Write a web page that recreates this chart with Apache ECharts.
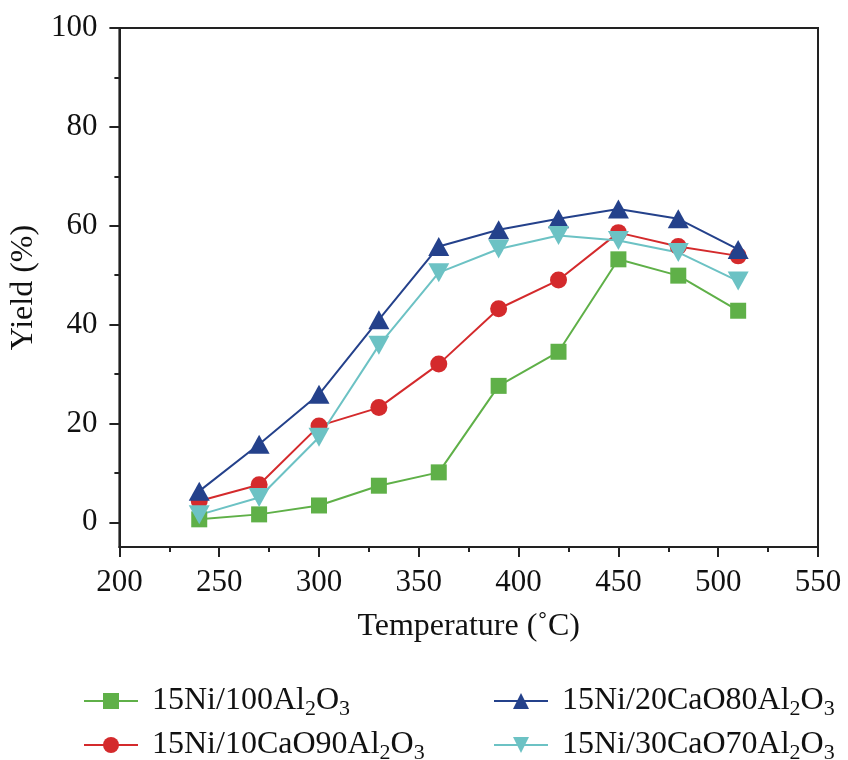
<!DOCTYPE html>
<html>
<head>
<meta charset="utf-8">
<script src="https://cdn.jsdelivr.net/npm/echarts@6/dist/echarts.min.js"></script>
<style>
  html, body { margin: 0; padding: 0; background: #fff; }
  #main { width: 848px; height: 760px; }
</style>
</head>
<body>
<div id="main"></div>
<script>
var temps = [240, 270, 300, 330, 360, 390, 420, 450, 480, 510];

var ni100 = [0.6, 1.6, 3.4, 7.4, 10.1, 27.6, 34.5, 53.2, 49.9, 42.8];
var ca10  = [4.3, 7.6, 19.5, 23.2, 32.0, 43.2, 49.0, 58.6, 55.8, 53.9];
var ca20  = [6.3, 15.8, 25.9, 41.0, 55.8, 59.2, 61.4, 63.4, 61.4, 55.2];
var ca30  = [1.5, 5.0, 17.2, 35.8, 50.5, 55.3, 58.0, 57.0, 54.6, 48.8];

var names = ['15Ni/100Al2O3', '15Ni/10CaO90Al2O3', '15Ni/20CaO80Al2O3', '15Ni/30CaO70Al2O3'];
var labels = [
    '{n|15Ni/100Al}{s|2}{n|O}{s|3}',
    '{n|15Ni/10CaO90Al}{s|2}{n|O}{s|3}',
    '{n|15Ni/20CaO80Al}{s|2}{n|O}{s|3}',
    '{n|15Ni/30CaO70Al}{s|2}{n|O}{s|3}'
];

var yMajor = [0, 20, 40, 60, 80, 100];
var yMinor = [10, 30, 50, 70, 90];

var font = 'Liberation Serif';
var axisColor = '#222';

function pairs(vals) {
    return temps.map(function (t, i) { return [t, vals[i]]; });
}

function legendBox(left, data) {
    return {
        left: left,
        top: 677,
        width: 360,
        height: 120,
        orient: 'vertical',
        itemWidth: 54,
        itemHeight: 20,
        itemGap: 6,
        data: data,
        formatter: function (name) { return labels[names.indexOf(name)]; },
        textStyle: {
            padding: [0, 0, 0, 9],
            rich: {
                n: { fontFamily: font, fontSize: 32, lineHeight: 36, color: '#111' },
                s: { fontFamily: font, fontSize: 22, lineHeight: 22, padding: [16, 0, 0, 0], color: '#111' }
            }
        }
    };
}

function line(name, vals, color, symbol, size) {
    return {
        name: name,
        type: 'line',
        data: pairs(vals),
        symbol: symbol,
        symbolSize: size,
        lineStyle: { color: color, width: 2 },
        itemStyle: { color: color, borderWidth: 0 },
        emphasis: { disabled: true },
        animation: false
    };
}

var myChart = echarts.init(document.getElementById('main'));

option = {
    backgroundColor: '#fff',
    grid: {
        left: 119, right: 30, top: 28, bottom: 213,
        show: true,
        borderColor: axisColor,
        borderWidth: 2
    },
    legend: [
        legendBox(78, [names[0], names[1]]),
        legendBox(488, [names[2], names[3]])
    ],
    xAxis: {
        type: 'value',
        min: 200,
        max: 550,
        interval: 50,
        name: 'Temperature (˚C)',
        nameLocation: 'middle',
        nameGap: 64,
        nameTextStyle: { fontFamily: font, fontSize: 32, color: '#111' },
        axisLine: { onZero: false, lineStyle: { color: axisColor, width: 2 } },
        axisTick: { show: true, inside: false, length: 10, lineStyle: { color: axisColor, width: 2 } },
        minorTick: { show: true, splitNumber: 2, length: 5, lineStyle: { color: axisColor, width: 2 } },
        axisLabel: { margin: 20, fontFamily: font, fontSize: 31, color: '#111' },
        splitLine: { show: false }
    },
    yAxis: [
        {
            type: 'value',
            min: -5,
            max: 100,
            name: 'Yield (%)',
            nameLocation: 'middle',
            nameGap: 69,
            nameTextStyle: { fontFamily: font, fontSize: 32, color: '#111' },
            axisLine: { onZero: false, lineStyle: { color: axisColor, width: 2 } },
            axisTick: { show: true, length: 10, customValues: yMajor, lineStyle: { color: axisColor, width: 2 } },
            axisLabel: { margin: 22, customValues: yMajor, fontFamily: font, fontSize: 31, color: '#111' },
            splitLine: { show: false }
        },
        {
            type: 'value',
            position: 'left',
            min: -5,
            max: 100,
            axisLine: { show: false },
            axisTick: { show: true, length: 5, customValues: yMinor, lineStyle: { color: axisColor, width: 2 } },
            axisLabel: { show: false },
            splitLine: { show: false }
        }
    ],
    series: [
        line(names[0], ni100, '#5fb048', 'rect', 16),
        line(names[1], ca10, '#d42a2c', 'circle', 17),
        line(names[2], ca20, '#24418b', 'triangle', [21, 19]),
        line(names[3], ca30, '#6cc2c4', 'triangle', [21, 19])
    ]
};

// down triangle for the last series
option.series[3].symbolRotate = 180;

myChart.setOption(option);
</script>
</body>
</html>
